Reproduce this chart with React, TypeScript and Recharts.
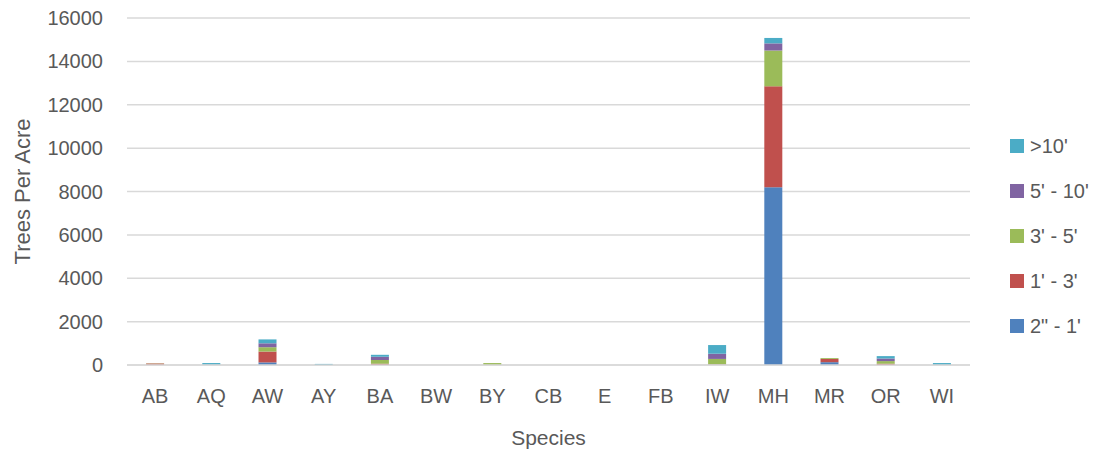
import React from 'react';
import { BarChart, Bar, XAxis, YAxis, CartesianGrid, Legend } from 'recharts';

const categories = ['AB', 'AQ', 'AW', 'AY', 'BA', 'BW', 'BY', 'CB', 'E', 'FB', 'IW', 'MH', 'MR', 'OR', 'WI'];
const s2in1ft = [10, 10, 120, 0, 0, 0, 0, 0, 0, 0, 10, 8200, 130, 0, 0];
const s1to3 = [60, 0, 500, 0, 60, 0, 0, 0, 0, 0, 20, 4650, 150, 60, 0];
const s3to5 = [10, 0, 200, 0, 170, 0, 90, 0, 0, 0, 250, 1650, 40, 120, 0];
const s5to10 = [0, 0, 180, 0, 150, 0, 0, 0, 0, 0, 240, 330, 0, 120, 0];
const sOver10 = [0, 80, 180, 50, 90, 0, 0, 0, 0, 0, 400, 250, 0, 110, 90];
const yTicks = [0, 2000, 4000, 6000, 8000, 10000, 12000, 14000, 16000];

const series = [
  { key: 'a', name: '2" - 1\'', values: s2in1ft, color: '#4f81bd' },
  { key: 'b', name: "1' - 3'", values: s1to3, color: '#c0504d' },
  { key: 'c', name: "3' - 5'", values: s3to5, color: '#9bbb59' },
  { key: 'd', name: "5' - 10'", values: s5to10, color: '#8064a2' },
  { key: 'e', name: ">10'", values: sOver10, color: '#4bacc6' },
];

const data = categories.map((c, i) => {
  const row: any = { name: c };
  series.forEach((s) => { row[s.key] = s.values[i]; });
  return row;
});

const FONT = '"Liberation Sans", Arial, sans-serif';
const TXT = '#595959';

const LegendContent = () => {
  const items = [...series].reverse();
  return (
    <div style={{ fontFamily: FONT, fontSize: 20, color: TXT, transform: 'translateY(10px)' }}>
      {items.map((s) => (
        <div key={s.key} style={{ display: 'flex', alignItems: 'center', height: 45 }}>
          <div style={{ width: 14, height: 14, background: s.color, marginRight: 6 }} />
          <span style={{ whiteSpace: 'nowrap' }}>{s.name}</span>
        </div>
      ))}
    </div>
  );
};

export default function App() {
  return (
    <div style={{ position: 'absolute', left: 0, top: 0, background: '#fff' }}>
      <BarChart
        width={1094}
        height={452}
        data={data}
        margin={{ top: 18, right: 40, left: 0, bottom: 27 }}
        barCategoryGap="34%"
      >
        <CartesianGrid vertical={false} stroke="#d9d9d9" strokeWidth={1.5} />
        <XAxis
          dataKey="name"
          height={60}
          axisLine={{ stroke: '#d9d9d9', strokeWidth: 1.5 }}
          tickLine={false}
          tickSize={0}
          tickMargin={24}
          tick={{ fill: TXT, fontSize: 20, fontFamily: FONT }}
          interval={0}
          label={{
            content: (props: any) => {
              const vb = props.viewBox;
              return (
                <text x={vb.x + vb.width / 2} y={vb.y + 80} textAnchor="middle" fill={TXT} fontSize={21} fontFamily={FONT}>
                  Species
                </text>
              );
            },
          }}
        />
        <YAxis
          width={127}
          domain={[0, 16000]}
          ticks={yTicks}
          axisLine={false}
          tickLine={false}
          tickSize={0}
          tickMargin={24}
          tick={{ fill: TXT, fontSize: 20, fontFamily: FONT }}
          label={{
            content: (props: any) => {
              const vb = props.viewBox;
              const cy = vb.y + vb.height / 2;
              return (
                <text x={30} y={cy} transform={`rotate(-90 30 ${cy})`} textAnchor="middle" fill={TXT} fontSize={22} fontFamily={FONT}>
                  Trees Per Acre
                </text>
              );
            },
          }}
        />
        <Legend layout="vertical" align="right" verticalAlign="middle" content={<LegendContent />} wrapperStyle={{ right: 0, width: 84 }} />
        {series.map((s) => (
          <Bar key={s.key} dataKey={s.key} name={s.name} stackId="x" fill={s.color} isAnimationActive={false} />
        ))}
      </BarChart>
    </div>
  );
}
